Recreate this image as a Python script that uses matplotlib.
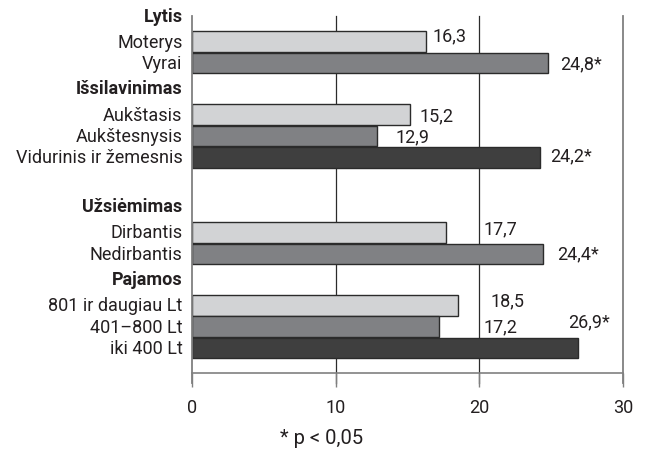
import matplotlib.pyplot as plt
import matplotlib.transforms as mtransforms

plt.rcParams['font.family'] = ['Roboto', 'DejaVu Sans']

# data
groups = ['Lytis', 'Išsilavinimas', 'Užsiėmimas', 'Pajamos']
categories = [
    ['Moterys', 'Vyrai'],
    ['Aukštasis', 'Aukštesnysis', 'Vidurinis ir žemesnis'],
    ['Dirbantis', 'Nedirbantis'],
    ['801 ir daugiau Lt', '401–800 Lt', 'iki 400 Lt'],
]
values = [
    [16.3, 24.8],
    [15.2, 12.9, 24.2],
    [17.7, 24.4],
    [18.5, 17.2, 26.9],
]
significant = [
    [False, True],
    [False, False, True],
    [False, True],
    [False, False, True],
]
xticks = [0, 10, 20, 30]

# layout (row units, top = 0)
gaps = [1.2, 2.4, 3.5, 2.4]          # space before first bar of each group
shades = ['#d2d3d5', '#808184', '#3f3f3f']
# label offsets (dx in data units, dy in rows) to mimic the original placement
lab_off = [
    [(0.45, -0.28), (0.8, 0.0)],
    [(0.65, 0.05), (1.25, 0.0), (0.7, -0.1)],
    [(2.6, -0.2), (1.0, 0.0)],
    [(2.3, -0.25), (3.1, 0.0), (-0.7, -1.25)],
]
FS = 13

fig = plt.figure(figsize=(6.46, 4.52), dpi=100)
ax = fig.add_axes([0.2972, 0.1726, 0.6672, 0.7898])

trans = mtransforms.blended_transform_factory(ax.transAxes, ax.transData)
y = 0.0
for g, name in enumerate(groups):
    y += gaps[g]
    ax.text(-0.022, y - 1.22, name, transform=trans, ha='right', va='center',
            fontsize=FS, fontweight='bold', color='#231f20')
    for i, (cat, val) in enumerate(zip(categories[g], values[g])):
        yy = y + i
        ax.barh(yy, val, height=0.96, color=shades[i], edgecolor='#2b2b2b',
                linewidth=1.0, zorder=3)
        ax.text(-0.022, yy, cat, transform=trans, ha='right', va='center',
                fontsize=FS, color='#231f20')
        txt = f'{val:.1f}'.replace('.', ',') + ('*' if significant[g][i] else '')
        dx, dy = lab_off[g][i]
        ax.text(val + dx, yy + dy, txt, ha='left', va='center',
                fontsize=FS, color='#231f20', zorder=4)
    y += len(categories[g]) - 1
bottom = y + 1.16

ax.set_ylim(bottom, 0)
ax.set_xlim(0, 30)
ax.set_yticks([])
ax.set_xticks(xticks)
ax.set_xticklabels([str(t) for t in xticks], fontsize=FS, color='#231f20')
ax.tick_params(axis='x', length=10, width=1.0, color='#808080', pad=8)

for t in xticks[1:3]:
    ax.plot([t, t], [bottom + 0.47, 0], color='#2b2b2b', lw=0.9, zorder=1,
            clip_on=False)
for t in (0, 30):
    ax.plot([t, t], [bottom + 0.47, 0], color='#808080', lw=1.3, zorder=5,
            clip_on=False)

ax.spines['top'].set_visible(False)
ax.spines['left'].set_visible(False)
ax.spines['right'].set_visible(False)
ax.spines['bottom'].set_color('#808080')
ax.spines['bottom'].set_linewidth(1.2)

fig.text(0.4334, 0.03, '* p < 0,05', ha='left', va='center', fontsize=14.5,
         color='#231f20', family=['Liberation Sans Narrow', 'Roboto', 'DejaVu Sans'])

plt.savefig('out.png', dpi=100)
